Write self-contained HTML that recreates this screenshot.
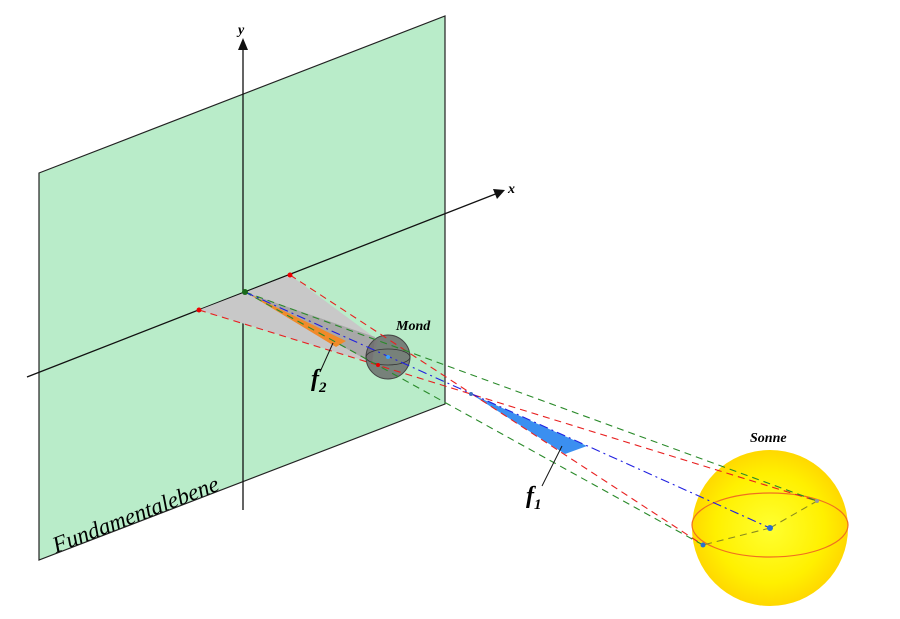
<!DOCTYPE html>
<html><head><style>body{margin:0;background:#fff}</style></head><body>
<svg width="900" height="614" viewBox="0 0 900 614" xmlns="http://www.w3.org/2000/svg" font-family="Liberation Serif, serif">
<defs>
<radialGradient id="sun" cx="0.5" cy="0.5" r="0.5">
<stop offset="0" stop-color="#ffff30"/><stop offset="0.7" stop-color="#fff000"/><stop offset="1" stop-color="#ffd800"/>
</radialGradient>
</defs>
<polygon points="39,173 445,16 445,404 39,560" fill="#b9ecc9" stroke="#222" stroke-width="1.2"/>
<line x1="243" y1="510" x2="243" y2="44" stroke="#111" stroke-width="1.3"/>
<polygon points="243,38 238,50 248,50" fill="#111"/>
<text x="238" y="34" font-style="italic" font-weight="bold" font-size="14">y</text>
<line x1="27" y1="377" x2="498" y2="193" stroke="#111" stroke-width="1.3"/>
<polygon points="505,190 493,189 497,199" fill="#111"/>
<text x="508" y="193" font-style="italic" font-weight="bold" font-size="14">x</text>
<polygon points="199,310 290,275 378,340 372,363" fill="#c8c8c8"/>
<polygon points="247,293 375,337 372,363" fill="#a8a8a8"/>
<polygon points="247,293 346,341 336,347" fill="#f08a2a"/>
<polygon points="471,394 587,446 565,454" fill="#3b8ff0"/>
<circle cx="770" cy="528" r="78" fill="url(#sun)"/>
<ellipse cx="770" cy="525" rx="78" ry="32" fill="none" stroke="#f07020" stroke-width="1.2"/>
<circle cx="388" cy="357" r="22" fill="#666" fill-opacity="0.8" stroke="#444"/>
<ellipse cx="388" cy="357" rx="22" ry="8" fill="none" stroke="#333" stroke-width="0.8"/>
<g fill="none" stroke-width="1.1" stroke-dasharray="7,5">
<line x1="290" y1="275" x2="703" y2="545" stroke="#e82020"/>
<line x1="199" y1="310" x2="817" y2="501" stroke="#e82020"/>
<line x1="245" y1="292" x2="817" y2="501" stroke="#2a8a2a"/>
<line x1="245" y1="292" x2="703" y2="545" stroke="#2a8a2a"/>
<line x1="770" y1="528" x2="703" y2="545" stroke="#8a8a20"/>
<line x1="770" y1="528" x2="817" y2="501" stroke="#8a8a20"/>
<line x1="245" y1="292" x2="770" y2="528" stroke="#2020e0" stroke-dasharray="9,4,2,4"/>
</g>
<circle cx="199" cy="310" r="2.5" fill="#e00"/><circle cx="290" cy="275" r="2.5" fill="#e00"/>
<circle cx="245" cy="292" r="3" fill="#1a6a1a"/><circle cx="378" cy="365" r="2" fill="#e00"/>
<circle cx="388" cy="357" r="2" fill="#3aa0ff"/><circle cx="471" cy="394" r="2" fill="#3a70c0"/>
<circle cx="770" cy="528" r="3" fill="#2a70d0"/><circle cx="703" cy="545" r="2.5" fill="#2a70d0"/>
<circle cx="817" cy="501" r="2" fill="#999"/>
<line x1="333" y1="343" x2="320" y2="372" stroke="#111"/>
<line x1="562" y1="446" x2="542" y2="486" stroke="#111"/>
<text x="396" y="330" font-style="italic" font-weight="bold" font-size="14">Mond</text>
<text x="750" y="442" font-style="italic" font-weight="bold" font-size="14">Sonne</text>
<text x="311" y="386" font-style="italic" font-weight="bold" font-size="24">f<tspan font-size="15" dy="6">2</tspan></text>
<text x="526" y="503" font-style="italic" font-weight="bold" font-size="24">f<tspan font-size="15" dy="6">1</tspan></text>
<text x="0" y="0" font-style="italic" font-size="23" transform="translate(56,553) rotate(-21)">Fundamentalebene</text>
</svg>
</body></html>
